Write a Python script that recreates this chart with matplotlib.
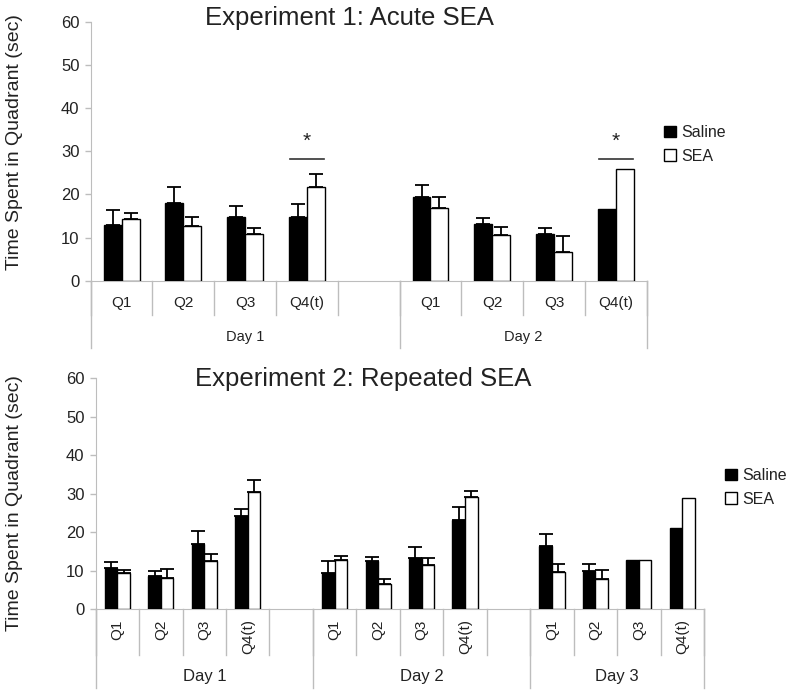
import numpy as np
import matplotlib
matplotlib.use("Agg")
import matplotlib.pyplot as plt
from matplotlib.patches import Patch

plt.rcParams['font.family'] = ['Liberation Sans', 'DejaVu Sans']

# ---- data ----
quadrants = ['Q1', 'Q2', 'Q3', 'Q4(t)']

# Experiment 1: Acute SEA
exp1_days = ['Day 1', 'Day 2']
exp1_saline = [[12.9, 17.9, 14.7, 14.7], [19.4, 13.2, 10.8, 16.5]]
exp1_saline_err = [[3.5, 3.9, 2.6, 3.0], [2.7, 1.4, 1.3, 0.0]]
exp1_sea = [[14.4, 12.6, 10.8, 21.8], [16.8, 10.7, 6.6, 25.9]]
exp1_sea_err = [[1.2, 2.1, 1.4, 3.0], [2.5, 1.8, 3.8, 0.0]]
exp1_sig = [(0, 3), (1, 3)]   # (day, quadrant) with asterisk

# Experiment 2: Repeated SEA
exp2_days = ['Day 1', 'Day 2', 'Day 3']
exp2_saline = [[10.6, 8.6, 16.9, 24.2], [9.3, 12.5, 13.3, 23.1], [16.5, 9.9, 12.7, 21.0]]
exp2_saline_err = [[1.5, 1.3, 3.4, 1.8], [3.2, 1.1, 2.9, 3.3], [2.9, 1.8, 0.0, 0.0]]
exp2_sea = [[9.3, 8.0, 12.5, 30.3], [12.7, 6.4, 11.4, 29.2], [9.5, 7.9, 12.7, 28.9]]
exp2_sea_err = [[0.8, 2.5, 1.8, 3.3], [1.2, 1.5, 1.9, 1.6], [2.2, 2.2, 0.0, 0.0]]

GRAY = '#bdbdbd'
TXT = '#222222'
BW = 0.29


def panel(ax, days, sal, sal_err, sea, sea_err, q_rot, q_y, q_sep, day_sep, day_y,
          q_fs, day_fs, sig=()):
    # category layout: 4 quadrants per day, one blank slot between days
    pos, labels, day_spans = [], [], []
    i = 0
    for d in range(len(days)):
        start = i
        for q in quadrants:
            pos.append(i + 0.5)
            labels.append(q)
            i += 1
        if d < len(days) - 1:
            i += 1
        day_spans.append((start, i))
    n = i
    pos = np.array(pos)
    s = np.concatenate(sal)
    se = np.concatenate(sal_err)
    e = np.concatenate(sea)
    ee = np.concatenate(sea_err)

    ax.bar(pos - BW / 2, s, BW, color='black', edgecolor='black', linewidth=1, zorder=3)
    ax.bar(pos + BW / 2, e, BW, color='white', edgecolor='black', linewidth=1, zorder=3)
    m = se > 0
    ax.errorbar(pos[m] - BW / 2, s[m], yerr=[np.zeros(m.sum()), se[m]], fmt='none',
                ecolor='black', elinewidth=1.3, capsize=5, capthick=1.3, zorder=2)
    m = ee > 0
    ax.errorbar(pos[m] + BW / 2, e[m], yerr=[np.zeros(m.sum()), ee[m]], fmt='none',
                ecolor='black', elinewidth=1.3, capsize=5, capthick=1.3, zorder=2)

    for d, q in sig:
        c = pos[d * 4 + q]
        ax.plot([c - 0.28, c + 0.28], [28.2, 28.2], color='#333333', lw=1.2)
        ax.text(c, 30.0, '*', ha='center', va='bottom', fontsize=15, color=TXT)

    ax.set_xlim(0, n)
    ax.set_ylim(0, 60)
    ax.set_yticks(range(0, 61, 10))
    ax.tick_params(axis='y', colors=GRAY, labelcolor=TXT, labelsize=12, length=4, width=1, pad=4)
    ax.set_xticks([])
    for sp in ['top', 'right']:
        ax.spines[sp].set_visible(False)
    ax.spines['left'].set_color(GRAY)
    ax.spines['bottom'].set_color(GRAY)

    tr = ax.get_xaxis_transform()
    # quadrant separators
    for k in range(n + 1):
        ax.plot([k, k], [0, q_sep], color=GRAY, lw=1, transform=tr, clip_on=False)
    # day separators
    edges = [0] + [sp[1] for sp in day_spans[:-1]] + [n]
    for k in edges:
        ax.plot([k, k], [0, day_sep], color=GRAY, lw=1, transform=tr, clip_on=False)
    for p, lab in zip(pos, labels):
        if q_rot:
            ax.text(p, q_y, lab, rotation=90, ha='center', va='top', fontsize=q_fs,
                    color=TXT, transform=tr)
        else:
            ax.text(p, q_y, lab, ha='center', va='center', fontsize=q_fs,
                    color=TXT, transform=tr)
    for k, d in enumerate(days):
        a = edges[k]
        b = edges[k + 1]
        ax.text((a + b) / 2, day_y, d, ha='center', va='center', fontsize=day_fs,
                color=TXT, transform=tr)


fig = plt.figure(figsize=(8, 6.97), dpi=100)
W, H = 800.0, 697.0

ax1 = fig.add_axes([90.7 / W, 1 - 280.7 / H, 556 / W, 259 / H])
panel(ax1, exp1_days, exp1_saline, exp1_saline_err, exp1_sea, exp1_sea_err,
      q_rot=False, q_y=-0.088, q_sep=-0.132, day_sep=-0.26, day_y=-0.216,
      q_fs=11, day_fs=10.5, sig=exp1_sig)

ax2 = fig.add_axes([95.7 / W, 1 - 609 / H, 608.3 / W, 230.7 / H])
panel(ax2, exp2_days, exp2_saline, exp2_saline_err, exp2_sea, exp2_sea_err,
      q_rot=True, q_y=-0.045, q_sep=-0.199, day_sep=-0.344, day_y=-0.293,
      q_fs=11, day_fs=12)

fig.text(349 / W, 1 - 18 / H, 'Experiment 1: Acute SEA', ha='center', va='center',
         fontsize=18.5, color=TXT)
fig.text(363 / W, 1 - 379 / H, 'Experiment 2: Repeated SEA', ha='center', va='center',
         fontsize=18.5, color=TXT)
fig.text(15 / W, 1 - 142 / H, 'Time Spent in Quadrant (sec)', rotation=90,
         ha='center', va='center', fontsize=14, color=TXT)
fig.text(15 / W, 1 - 503 / H, 'Time Spent in Quadrant (sec)', rotation=90,
         ha='center', va='center', fontsize=14, color=TXT)

handles = [Patch(facecolor='black', edgecolor='black', label='Saline'),
           Patch(facecolor='white', edgecolor='black', label='SEA')]
for xl, yt in [(664, 125), (725, 468)]:
    fig.legend(handles=handles, loc='upper left', bbox_to_anchor=(xl / W, 1 - yt / H),
               frameon=False, fontsize=11.5, handlelength=0.75, handleheight=0.75,
               handletextpad=0.3, labelspacing=0.55, borderpad=0, borderaxespad=0,
               labelcolor=TXT)

fig.savefig('out.png', dpi=100)
